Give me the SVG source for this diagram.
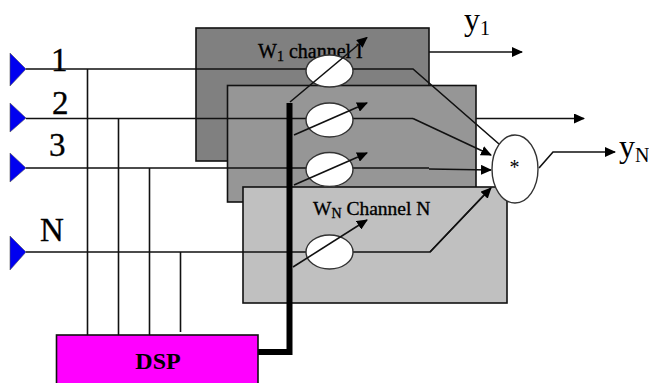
<svg xmlns="http://www.w3.org/2000/svg" width="649" height="383" viewBox="0 0 649 383">
<style>
text{font-family:"Liberation Serif","Times New Roman",serif;fill:#000}
.h{stroke:#000;stroke-width:.35}
.w{fill:none;stroke:#111;stroke-width:1.6}
.p{fill:#808080;stroke:#111;stroke-width:1.6}
.e{fill:#fff;stroke:#333;stroke-width:1.4}
.t{fill:#0000f0;stroke:#555;stroke-width:.6}
</style>
<defs>
<marker id="a" markerUnits="userSpaceOnUse" markerWidth="11" markerHeight="10" refX="10" refY="5" orient="auto"><path d="M0 0L11 5L0 10z" fill="#000"/></marker>
</defs>
<rect width="649" height="383" fill="#fff"/>
<g id="channel-1"><rect class="p" x="196" y="28" width="233" height="133"/><text x="258" y="58" font-size="20" class="h">W<tspan font-size="14" dy="3">1</tspan><tspan dy="-3"> channel I</tspan></text></g>
<g id="channel-2"><rect class="p" x="227.500" y="85.500" width="248.500" height="116.500" style="fill:#969696"/></g>
<g id="channel-n"><rect class="p" x="243" y="187" width="264" height="116" style="fill:#c0c0c0"/><text x="313" y="215" font-size="19.500" class="h">W<tspan font-size="14" dy="3">N</tspan><tspan dy="-3"> Channel N</tspan></text></g>
<g id="connectors">
<path class="w" d="M26 69H413L499 144M26 118.500H413M26 168H429M26 252H430L484 195M87.500 69V335M118.500 118.500V335M149.500 168V335M180.500 252V332"/>
<path class="w" d="M413 118.500L491 155" marker-end="url(#a)"/>
<path class="w" d="M429 169L491 170" marker-end="url(#a)"/>
<path class="w" d="M430 252L491 188" marker-end="url(#a)"/>
<path class="w" d="M429 52H522" marker-end="url(#a)"/>
<path class="w" d="M476 118.500H584" marker-end="url(#a)"/>
<path class="w" d="M539 168L553 152H615" marker-end="url(#a)"/>
</g>
<g id="weight-1"><ellipse class="e" cx="329.500" cy="71" rx="23.500" ry="16"/></g>
<g id="weight-2"><ellipse class="e" cx="329.500" cy="120" rx="23.500" ry="17"/></g>
<g id="weight-3"><ellipse class="e" cx="329.500" cy="169.500" rx="23.500" ry="17"/></g>
<g id="weight-n"><ellipse class="e" cx="329.500" cy="252" rx="23.500" ry="17"/></g>
<g id="adjust-lines">
<path class="w" d="M290 102L367 37.500" marker-end="url(#a)"/>
<path class="w" d="M294 135L367 103" marker-end="url(#a)"/>
<path class="w" d="M294 185L367 153" marker-end="url(#a)"/>
<path class="w" d="M293 267L367 220" marker-end="url(#a)"/>
<path d="M289.500 103V352H258" fill="none" stroke="#000" stroke-width="6"/>
</g>
<g id="input-1"><path class="t" d="M10 53L26 69L10 86z"/><text x="51" y="71" font-size="33" class="h">1</text></g>
<g id="input-2"><path class="t" d="M10 103L26 118L10 132z"/><text x="52" y="114" font-size="33" class="h">2</text></g>
<g id="input-3"><path class="t" d="M10 153L26 168L10 182z"/><text x="49" y="156" font-size="33" class="h">3</text></g>
<g id="input-n"><path class="t" d="M10 236L26 252L10 270z"/><text x="40" y="241" font-size="33" class="h">N</text></g>
<g id="sum"><ellipse class="e" cx="515" cy="169" rx="23" ry="34"/><text x="514.500" y="174" font-size="20" text-anchor="middle">*</text></g>
<g id="dsp"><rect x="56.500" y="335" width="201.500" height="50" fill="#f0f" stroke="#111" stroke-width="1.600"/><text x="158" y="369" font-size="24" font-weight="bold" text-anchor="middle">DSP</text></g>
<g id="output-1"><text x="464" y="30" font-size="32">y<tspan font-size="20" dy="5">1</tspan></text></g>
<g id="output-n"><text x="619" y="157" font-size="32">y<tspan font-size="20" dy="5">N</tspan></text></g>
</svg>
